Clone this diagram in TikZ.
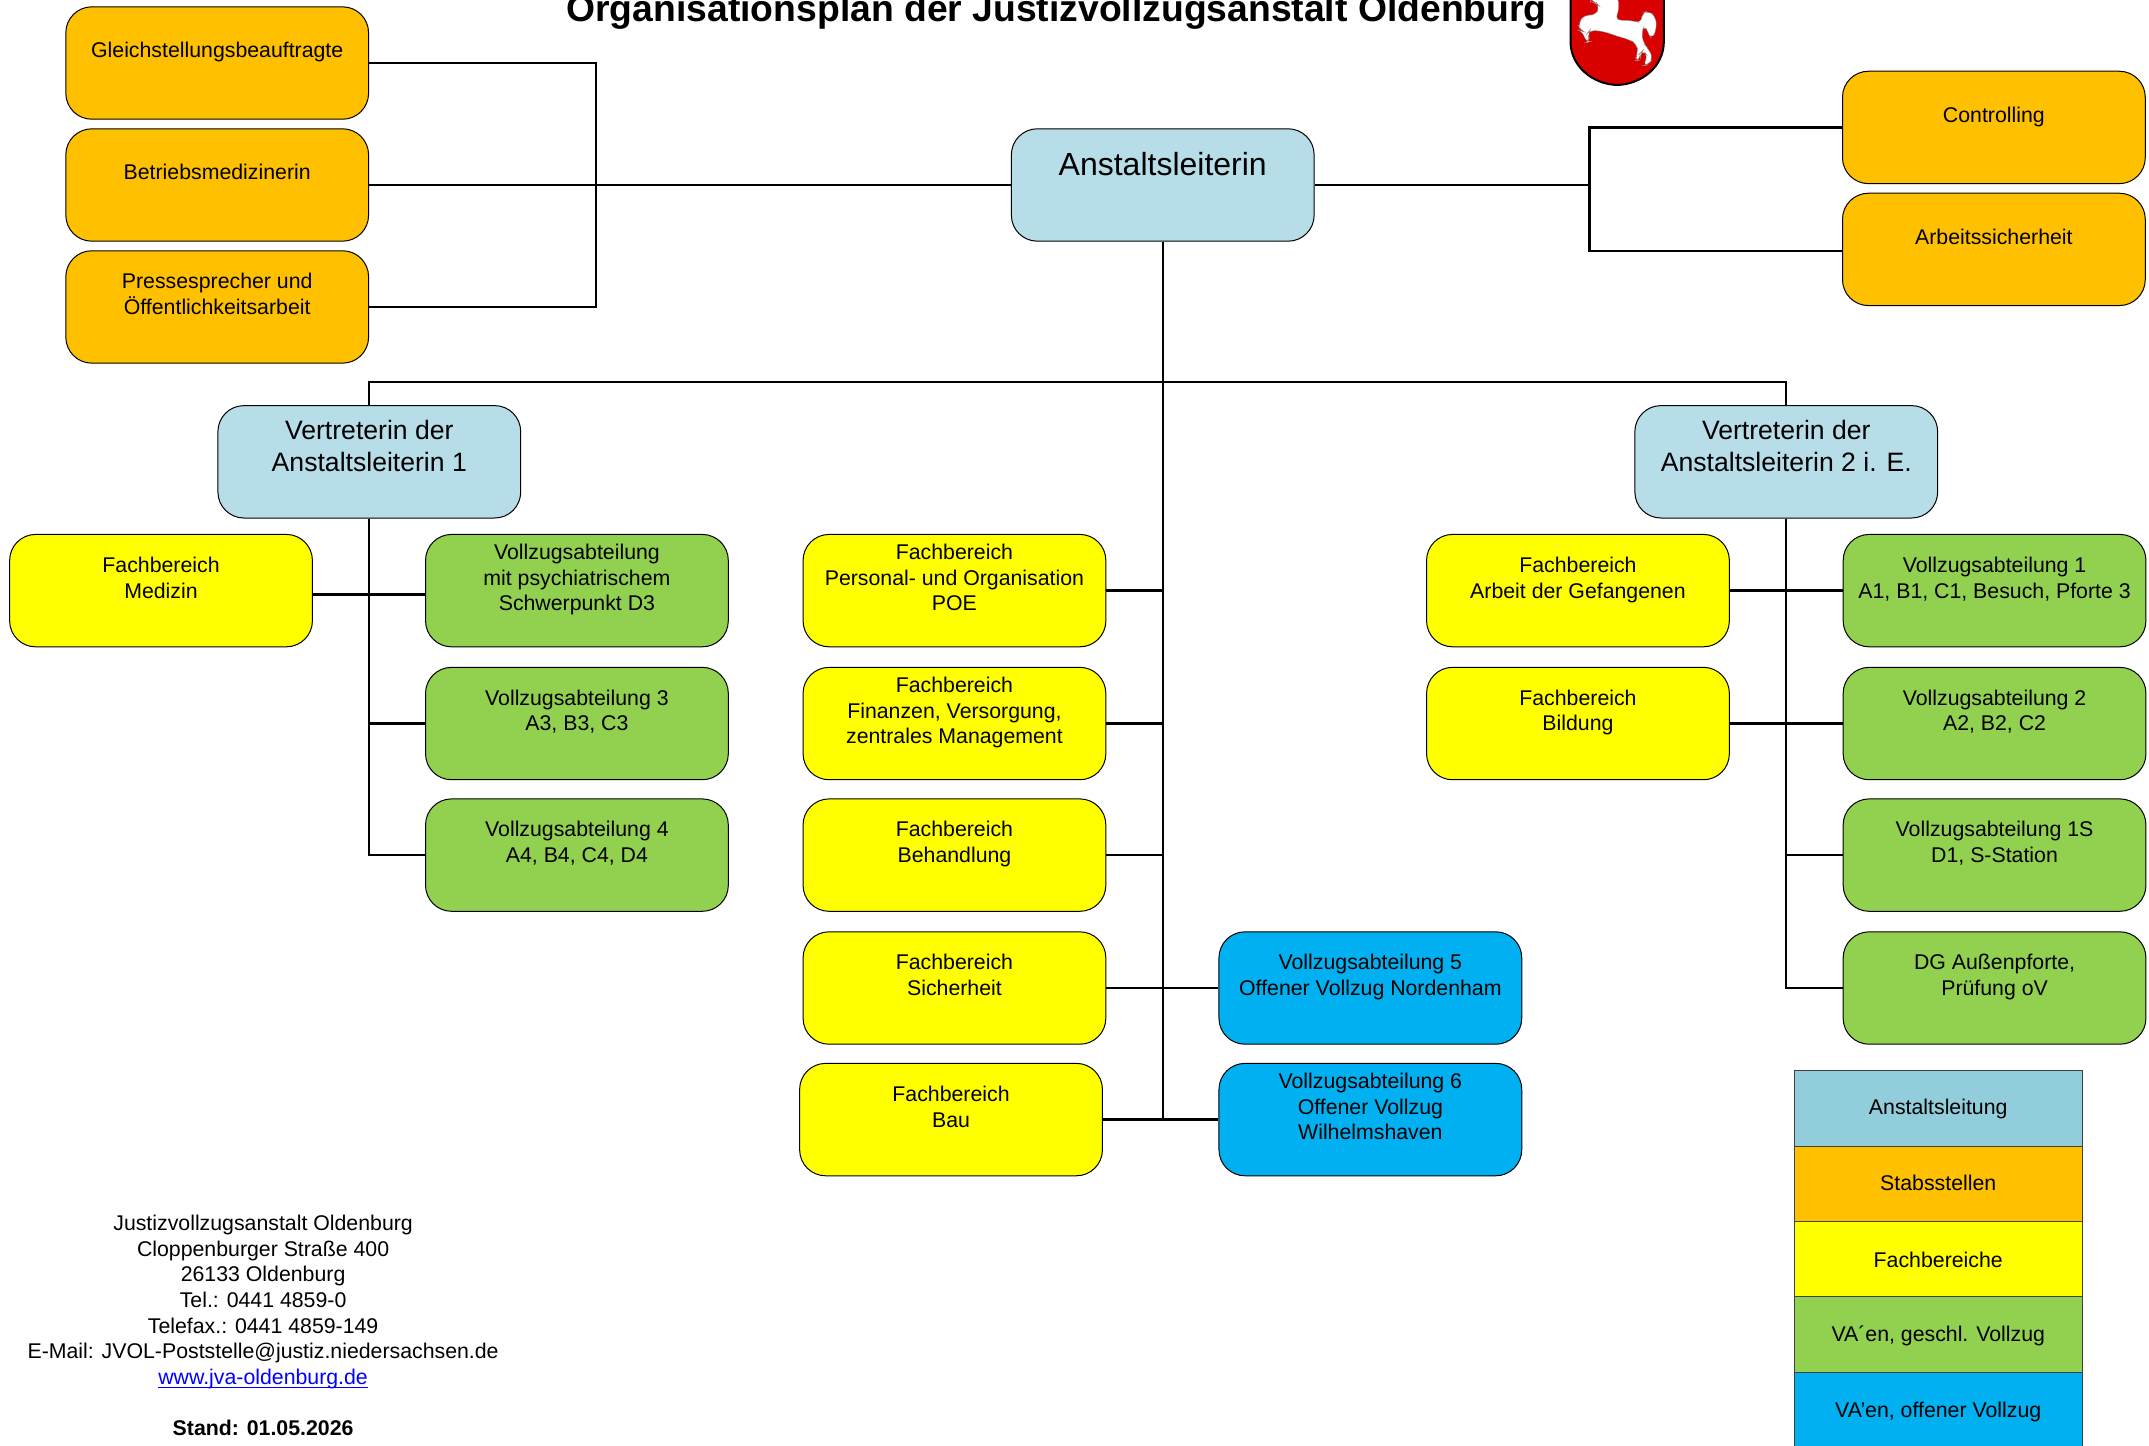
\documentclass[tikz,border=0pt]{standalone}
\usepackage{fontspec}
\setmainfont{Liberation Sans}
\newcommand\lbl[2][2.5pt]{\smash{\raisebox{#1}{\begin{tabular}{@{}c@{}}#2\end{tabular}}}}
\definecolor{cHead}{HTML}{B7DDE8}
\definecolor{cHeadL}{HTML}{92CDDC}
\definecolor{cStab}{HTML}{FFC000}
\definecolor{cFach}{HTML}{FFFF00}
\definecolor{cGes}{HTML}{92D050}
\definecolor{cOff}{HTML}{00B0F0}
\tikzset{
  bx/.style={draw=black,line width=0.5pt,rounded corners=13pt,inner sep=0pt,
    minimum width=151.4pt,minimum height=56.2pt,
    font=\fontsize{10.65}{12.8}\selectfont},
  head/.style={bx,fill=cHead,font=\fontsize{13.3}{16.2}\selectfont},
  stab/.style={bx,fill=cStab},
  fach/.style={bx,fill=cFach},
  ges/.style={bx,fill=cGes},
  off/.style={bx,fill=cOff},
  legendrow/.style={draw=black!75,line width=0.5pt,inner sep=0pt,
    minimum width=143.8pt,minimum height=37.9pt,
    font=\fontsize{10.65}{12.8}\selectfont},
  conn/.style={line width=1.15pt,draw=black},
}
\begin{document}
\begin{tikzpicture}[x=0.68525pt,y=-0.68525pt]
\useasboundingbox (0,0) rectangle (1568.2,1054.5);
% title
\node[inner sep=0pt,anchor=base,font=\fontsize{18.65}{20}\selectfont\bfseries] (title) at (771,16) {Organisationsplan der Justizvollzugsanstalt Oldenburg};
% coat of arms
\begin{scope}[shift={(1094.5,0)},x=0.16667pt,y=-0.16667pt]
\draw[fill=red!85!black,draw=black,line width=1pt] (212,-60) -- (212,125) .. controls (212,200) and (280,253) .. (352,255) .. controls (425,253) and (492,200) .. (492,125) -- (492,-60) -- cycle;
\fill[white,draw=black!50,line width=0.15pt,rounded corners=3pt] (355,-10) -- (358,30) -- (345,60) -- (400,62) -- (425,70) -- (425,40) -- (445,32) -- (468,50) -- (470,90) -- (455,118) -- (445,100) -- (435,75) -- (425,95) -- (430,130) -- (445,145) -- (460,175) -- (445,195) -- (428,197) -- (445,170) -- (430,150) -- (420,160) -- (422,180) -- (403,183) -- (415,160) -- (410,130) -- (385,118) -- (340,105) -- (315,95) -- (270,90) -- (262,100) -- (272,125) -- (258,128) -- (250,95) -- (240,92) -- (235,70) -- (255,43) -- (285,48) -- (300,20) -- (290,8) -- (272,5) -- (272,-10) -- cycle;
\end{scope}
% nodes
\node[stab] (g) at (158.5,46) {\lbl{Gleichstellungsbeauftragte}};
\node[stab] (b) at (158.5,135) {\lbl{Betriebsmedizinerin}};
\node[stab] (p) at (158.5,224) {\lbl{Pressesprecher und\\Öffentlichkeitsarbeit}};
\node[head,font=\fontsize{16}{19}\selectfont] (a) at (848.5,135) {\lbl[4pt]{Anstaltsleiterin}};
\node[stab] (c) at (1455,93) {\lbl{Controlling}};
\node[stab] (as) at (1455,182) {\lbl{Arbeitssicherheit}};
\node[head] (v1) at (269.5,337) {\lbl[2.7pt]{Vertreterin der\\Anstaltsleiterin 1}};
\node[head] (v2) at (1303.5,337) {\lbl[2.7pt]{Vertreterin der\\Anstaltsleiterin 2 i. E.}};
\node[fach] (med) at (117.5,431) {\lbl{Fachbereich\\Medizin}};
\node[ges] (psy) at (421,431) {\lbl{Vollzugsabteilung\\mit psychiatrischem\\Schwerpunkt D3}};
\node[ges] (va3) at (421,528) {\lbl{Vollzugsabteilung 3\\A3, B3, C3}};
\node[ges] (va4) at (421,624) {\lbl{Vollzugsabteilung 4\\A4, B4, C4, D4}};
\node[fach] (poe) at (696.5,431) {\lbl{Fachbereich\\Personal- und Organisation\\POE}};
\node[fach] (fin) at (696.5,528) {\lbl{Fachbereich\\Finanzen, Versorgung,\\zentrales Management}};
\node[fach] (beh) at (696.5,624) {\lbl{Fachbereich\\Behandlung}};
\node[fach] (sich) at (696.5,721) {\lbl{Fachbereich\\Sicherheit}};
\node[fach] (bau) at (694,817) {\lbl{Fachbereich\\Bau}};
\node[off] (va5) at (1000,721) {\lbl{Vollzugsabteilung 5\\Offener Vollzug Nordenham}};
\node[off] (va6) at (1000,817) {\lbl{Vollzugsabteilung 6\\Offener Vollzug\\Wilhelmshaven}};
\node[fach] (arb) at (1151.5,431) {\lbl{Fachbereich\\Arbeit der Gefangenen}};
\node[fach] (bil) at (1151.5,528) {\lbl{Fachbereich\\Bildung}};
\node[ges] (va1) at (1455.5,431) {\lbl{Vollzugsabteilung 1\\A1, B1, C1, Besuch, Pforte 3}};
\node[ges] (va2) at (1455.5,528) {\lbl{Vollzugsabteilung 2\\A2, B2, C2}};
\node[ges] (va1s) at (1455.5,624) {\lbl{Vollzugsabteilung 1S\\D1, S-Station}};
\node[ges] (dg) at (1455.5,721) {\lbl{DG Außenpforte,\\Prüfung oV}};
% connectors
\coordinate (lbus) at (435,135);
\coordinate (rbus) at (1160,135);
\coordinate (bus) at (849,279);
\draw[conn] (g.east) -| (lbus) |- (p.east);
\draw[conn] (b.east) -- (a.west);
\draw[conn] (a.east) -- (rbus);
\draw[conn] (c.west) -| (rbus) |- ([yshift=-0.7pt]as.west);
\draw[conn] (a.south) -- (a.south |- bau.east);
\draw[conn] (v1.north) |- (bus) -| (v2.north);
\draw[conn] (v1.south) |- (va4.west);
\draw[conn] ([yshift=-2pt]med.east) -- ([yshift=-2pt]psy.west);
\draw[conn] (va3.west) -- (va3.west -| v1.south);
\draw[conn] (v2.south) |- (dg.west);
\draw[conn] (arb.east) -- (va1.west);
\draw[conn] (bil.east) -- (va2.west);
\draw[conn] (va1s.west) -- (va1s.west -| v2.south);
\draw[conn] (poe.east) -- (poe.east -| a.south);
\draw[conn] (fin.east) -- (fin.east -| a.south);
\draw[conn] (beh.east) -- (beh.east -| a.south);
\draw[conn] (sich.east) -- (va5.west);
\draw[conn] (bau.east) -- (va6.west);
% legend
\node[legendrow,fill=cHeadL] (l1) at (1414.4,808.9) {\lbl[-3pt]{Anstaltsleitung}};
\node[legendrow,fill=cStab] (l2) at (1414.4,864.2) {\lbl[-3.4pt]{Stabsstellen}};
\node[legendrow,fill=cFach] (l3) at (1414.4,919.3) {\lbl[-4.2pt]{Fachbereiche}};
\node[legendrow,fill=cGes] (l4) at (1414.4,974.1) {\lbl[-3.4pt]{VA´en, geschl. Vollzug}};
\node[legendrow,fill=cOff] (l5) at (1414.4,1029.1) {\lbl[-3.7pt]{VA’en, offener Vollzug}};
% footer
\node[inner sep=0pt,align=center,anchor=north,font=\fontsize{10.65}{12.8}\selectfont] (foot) at (192,886.6) {Justizvollzugsanstalt Oldenburg\\Cloppenburger Straße 400\\26133 Oldenburg\\Tel.: 0441 4859-0\\Telefax.: 0441 4859-149\\E-Mail: JVOL-Poststelle@justiz.niedersachsen.de\\\textcolor{blue}{\underline{\smash{www.jva-oldenburg.de}}}\\\mbox{}\\\textbf{Stand: 01.05.2026}};
\end{tikzpicture}
\end{document}
